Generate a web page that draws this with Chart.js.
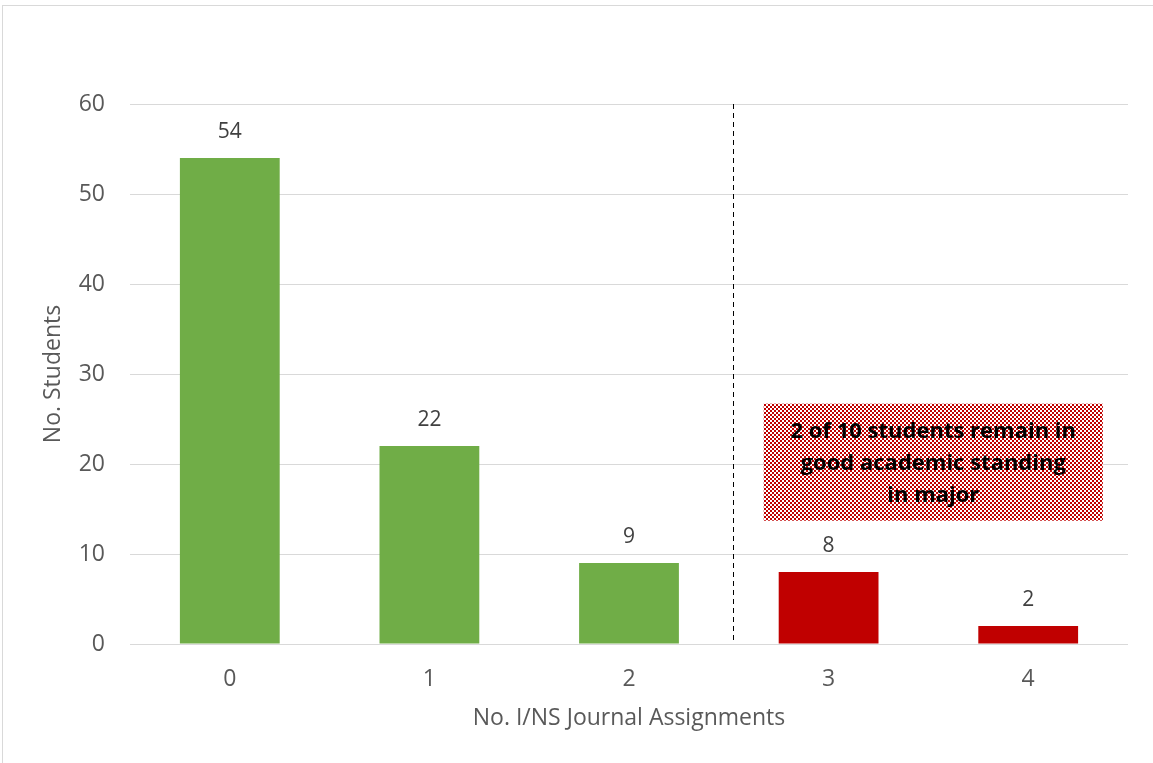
<!DOCTYPE html>
<html>
<head>
<meta charset="utf-8">
<script src="https://cdn.jsdelivr.net/npm/chart.js@4.4.1/dist/chart.umd.min.js"></script>
<style>
    html, body { margin: 0; padding: 0; background: #fff; }
    #wrap {
        position: absolute; left: 2px; top: 5px; width: 1151px; height: 758px;
        border-top: 1px solid #d9d9d9; border-left: 1px solid #d9d9d9;
    }
    #box { position: absolute; left: 0; top: 0; width: 1153px; height: 763px; }
</style>
</head>
<body>
<div id="wrap"></div>
<div id="box"><canvas id="c" width="1153" height="763"></canvas></div>
<script>
    'use strict';

    const categories = ['0', '1', '2', '3', '4'];
    const students = [54, 22, 9, 8, 2];
    const barColors = ['#70AD47', '#70AD47', '#70AD47', '#C00000', '#C00000'];
    const yTicks = [0, 10, 20, 30, 40, 50, 60];
    const noteLines = ['2 of 10 students remain in', 'good academic standing', 'in major'];
    // divider sits between categories 2 and 3, note box spans into the red side
    const dividerAt = 2.52;
    const noteBox = { x0: 2.675, x1: 4.374, y0: 26.7, y1: 13.7 };

    const FONT = '"Open Sans", sans-serif';

    function dotPattern(ctx) {
        const tile = document.createElement('canvas');
        tile.width = 4; tile.height = 4;
        const t = tile.getContext('2d');
        t.fillStyle = '#fff';
        t.fillRect(0, 0, 4, 4);
        t.fillStyle = '#C00000';
        t.fillRect(0, 0, 2, 2);
        t.fillRect(2, 2, 2, 2);
        return ctx.createPattern(tile, 'repeat');
    }

    const extras = {
        id: 'extras',
        afterDatasetsDraw: function(chart) {
            const ctx = chart.ctx;
            const xs = chart.scales.x, ys = chart.scales.y;
            const area = chart.chartArea;

            // value labels above bars
            const meta = chart.getDatasetMeta(0);
            ctx.save();
            ctx.font = '21px ' + FONT;
            ctx.fillStyle = '#404040';
            ctx.textAlign = 'center';
            ctx.textBaseline = 'middle';
            meta.data.forEach(function(bar, i) {
                ctx.fillText(String(students[i]), bar.x, bar.y - 26);
            });

            // dashed divider
            const dx = Math.round(xs.getPixelForValue(dividerAt)) + 0.5;
            ctx.strokeStyle = '#000';
            ctx.lineWidth = 1;
            ctx.setLineDash([5, 4]);
            ctx.beginPath();
            ctx.moveTo(dx, area.top);
            ctx.lineTo(dx, area.bottom);
            ctx.stroke();
            ctx.setLineDash([]);

            // note box
            const bx0 = xs.getPixelForValue(noteBox.x0);
            const bx1 = xs.getPixelForValue(noteBox.x1);
            const by0 = ys.getPixelForValue(noteBox.y0);
            const by1 = ys.getPixelForValue(noteBox.y1);
            ctx.fillStyle = dotPattern(ctx);
            ctx.fillRect(bx0, by0, bx1 - bx0, by1 - by0);

            ctx.font = 'bold 22px ' + FONT;
            ctx.fillStyle = '#000';
            ctx.textBaseline = 'middle';
            const cx = (bx0 + bx1) / 2;
            const lh = 32;
            const cy = (by0 + by1) / 2;
            noteLines.forEach(function(line, i) {
                ctx.fillText(line, cx, cy + (i - 1) * lh + 2);
            });
            ctx.restore();
        }
    };

    new Chart(document.getElementById('c'), {
        type: 'bar',
        data: {
            labels: categories,
            datasets: [{
                data: students,
                backgroundColor: barColors,
                categoryPercentage: 1,
                barPercentage: 0.5
            }]
        },
        options: {
            responsive: false,
            animation: false,
            events: [],
            layout: { padding: { left: 20, top: 104, right: 25, bottom: 19 } },
            plugins: {
                legend: { display: false },
                tooltip: { enabled: false }
            },
            scales: {
                x: {
                    grid: { display: false, drawTicks: false },
                    border: { display: false },
                    ticks: { color: '#595959', font: { family: FONT, size: 23 }, padding: 22 },
                    title: {
                        display: true, text: 'No. I/NS Journal Assignments',
                        color: '#595959', font: { family: FONT, size: 23 },
                        padding: { top: 0, bottom: 12 }
                    },
                    afterFit: function(s) { s.height = 100; }
                },
                y: {
                    min: 0, max: 60,
                    afterBuildTicks: function(s) { s.ticks = yTicks.map(function(v) { return { value: v }; }); },
                    grid: { color: '#d9d9d9', lineWidth: 1, drawTicks: false },
                    border: { display: false },
                    ticks: { color: '#595959', font: { family: FONT, size: 23 }, padding: 25 },
                    title: {
                        display: true, text: 'No. Students',
                        color: '#595959', font: { family: FONT, size: 23 },
                        padding: { top: 20, bottom: 0 }
                    },
                    afterFit: function(s) { s.width = 110; }
                }
            }
        },
        plugins: [extras]
    });
</script>
</body>
</html>
